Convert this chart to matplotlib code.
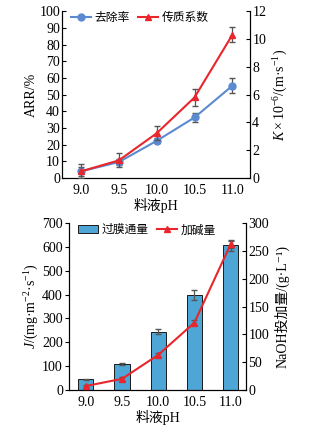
import matplotlib
matplotlib.use("Agg")
import matplotlib.pyplot as plt
from matplotlib.lines import Line2D
from matplotlib.patches import Patch
import numpy as np

plt.rcParams['font.family'] = ['Liberation Serif', 'Noto Sans CJK SC', 'DejaVu Serif']
plt.rcParams['axes.unicode_minus'] = False
plt.rcParams['mathtext.fontset'] = 'custom'
plt.rcParams['mathtext.rm'] = 'Liberation Serif'
plt.rcParams['mathtext.it'] = 'Liberation Serif:italic'

ph_labels = ["9.0", "9.5", "10.0", "10.5", "11.0"]
arr = [4.0, 9.6, 22.3, 36.3, 55.3]
arr_err = [2.5, 2.0, 1.5, 2.5, 4.5]
k_coef = [0.48, 1.27, 3.22, 5.8, 10.3]
k_err = [0.5, 0.5, 0.5, 0.6, 0.55]

flux = [45, 109, 245, 399, 606]
flux_err = [3, 5, 12, 20, 25]
naoh = [7, 20, 63, 121, 262]
naoh_err = [2, 3, 4, 4, 6]

blue = '#5b8ad0'
red = '#e8262b'
barc = '#4da6d6'
errc = '#555555'
fs = 10
lfs = 8.5

fig = plt.figure(figsize=(3.34, 4.29), dpi=100)
x = np.arange(len(ph_labels))

def style(a):
    a.spines['top'].set_visible(False)
    a.tick_params(labelsize=fs, length=3, width=0.8, pad=1.5)
    for s in a.spines.values():
        s.set_linewidth(0.8)

# ---- Top chart ----
ax1 = fig.add_axes([0.186, 0.585, 0.563, 0.389])
ax2 = ax1.twinx()
ax1.errorbar(x, arr, yerr=arr_err, color=blue, marker='o', ms=5, lw=1.5,
             ecolor=errc, elinewidth=0.9, capsize=2, zorder=3)
ax2.errorbar(x, k_coef, yerr=k_err, color=red, marker='^', ms=5, lw=1.5,
             ecolor=errc, elinewidth=0.9, capsize=2, zorder=4)
ax1.set_xlim(-0.5, 4.47)
ax1.set_ylim(0, 100)
ax1.set_yticks(np.arange(0, 101, 10))
ax2.set_ylim(0, 12)
ax2.set_yticks(np.arange(0, 13, 2))
ax1.set_xticks(x)
ax1.set_xticklabels(ph_labels)
ax1.set_ylabel('ARR/%', fontsize=fs, labelpad=1)
ax2.set_ylabel(r'$K\times10^{-6}$/(m·s$^{-1}$)', fontsize=fs, labelpad=4)
ax1.set_xlabel('料液pH', fontsize=fs, labelpad=1)
style(ax1); style(ax2)
ax1.tick_params(axis='y', direction='in')
ax2.tick_params(axis='y', direction='in')
ax1.tick_params(axis='x', length=0, pad=4)
hl = [Line2D([], [], color=blue, marker='o', ms=5, lw=1.5),
      Line2D([], [], color=red, marker='^', ms=5, lw=1.5)]
ax2.legend(hl, ['去除率', '传质系数'], loc='upper left', ncol=2, frameon=False,
           fontsize=lfs, bbox_to_anchor=(0.01, 1.035), handlelength=1.7,
           columnspacing=0.7, handletextpad=0.3, borderaxespad=0.2)

# ---- Bottom chart ----
ax3 = fig.add_axes([0.207, 0.091, 0.530, 0.389])
ax4 = ax3.twinx()
ax3.bar(x, flux, width=0.42, color=barc, edgecolor='#1a1a1a', linewidth=0.7,
        yerr=flux_err, error_kw=dict(ecolor=errc, elinewidth=0.9, capsize=2),
        zorder=2)
ax4.errorbar(x, naoh, yerr=naoh_err, color=red, marker='^', ms=5, lw=1.5,
             ecolor=errc, elinewidth=0.9, capsize=2, zorder=4)
ax3.set_xlim(-0.46, 4.43)
ax3.set_ylim(0, 700)
ax3.set_yticks(np.arange(0, 701, 100))
ax4.set_ylim(0, 300)
ax4.set_yticks(np.arange(0, 301, 50))
ax3.set_xticks(x)
ax3.set_xticklabels(ph_labels)
ax3.set_ylabel(r'$J$/(mg·m$^{-2}$·s$^{-1}$)', fontsize=fs, labelpad=1)
ax4.set_ylabel('NaOH投加量/(g·L⁻¹)', fontsize=fs, labelpad=4)
ax3.set_xlabel('料液pH', fontsize=fs, labelpad=1)
style(ax3); style(ax4)
ax3.tick_params(axis='y', direction='out')
ax4.tick_params(axis='y', direction='in')
ax3.tick_params(axis='x', length=0, pad=4)
hb = [Patch(facecolor=barc, edgecolor='#1a1a1a', linewidth=0.7),
      Line2D([], [], color=red, marker='^', ms=5, lw=1.5)]
ax4.legend(hb, ['过膜通量', '加碱量'], loc='upper left', ncol=2, frameon=False,
           fontsize=lfs, bbox_to_anchor=(0.01, 1.035), handlelength=1.7,
           columnspacing=0.7, handletextpad=0.3, borderaxespad=0.2)

fig.savefig('out.png', dpi=100)
